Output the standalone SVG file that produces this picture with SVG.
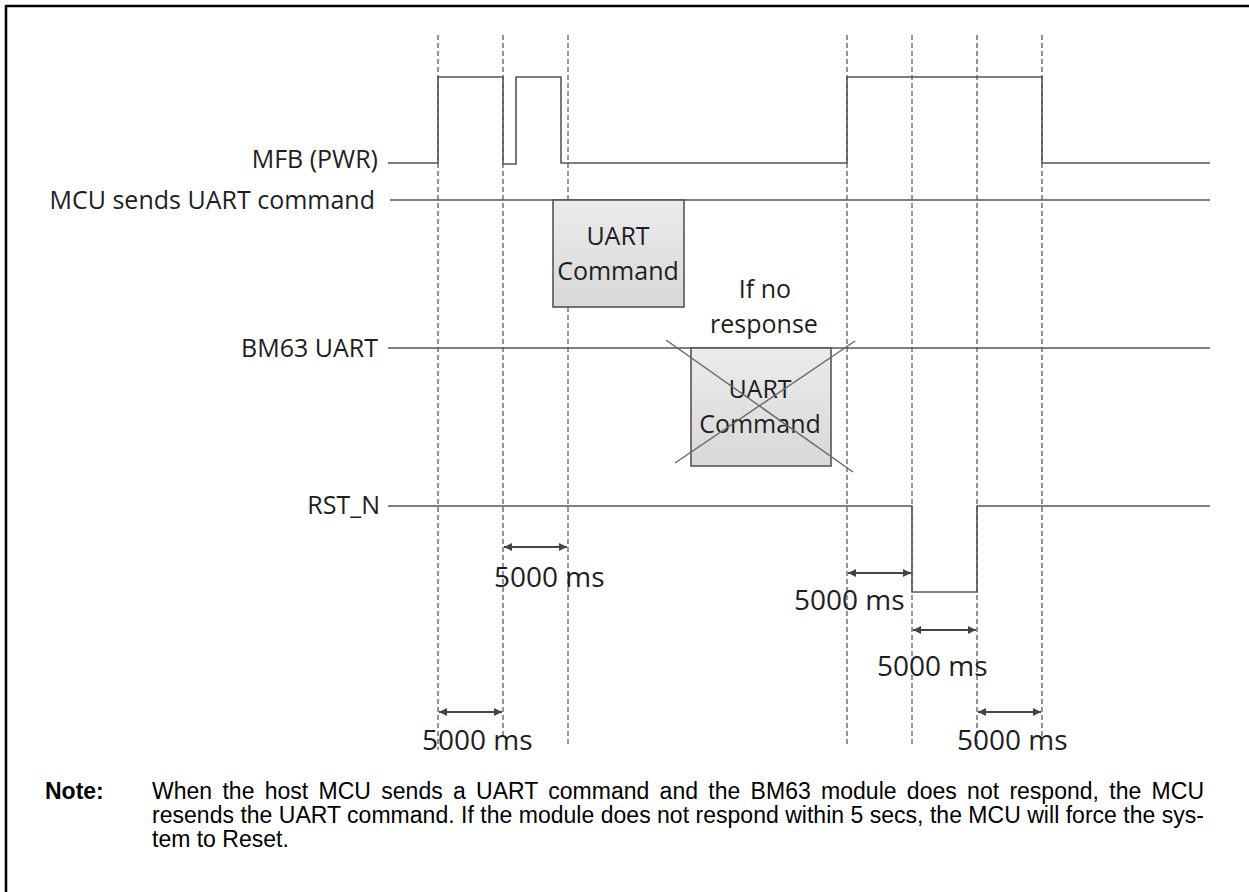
<svg xmlns="http://www.w3.org/2000/svg" width="1249" height="892" viewBox="0 0 1249 892">
<style>
.lbl{font-family:"Open Sans","DejaVu Sans",sans-serif;font-size:25px;fill:#1e1e1e}
.ms{font-family:"Open Sans","DejaVu Sans",sans-serif;font-size:28px;fill:#1e1e1e}
.sig{fill:none;stroke:#555;stroke-width:1.6}
.guide{fill:none;stroke:#2a2a2a;stroke-width:1;stroke-dasharray:5 3}
.dim{fill:none;stroke:#444;stroke-width:1.8;marker-start:url(#ah);marker-end:url(#ah)}
.box{fill:url(#gb);stroke:#555;stroke-width:1.6}
.cross{stroke:#6a6a6a;stroke-width:1.5}
.note{font-family:"Liberation Sans",Arial,sans-serif;font-size:23px;fill:#000}
</style>
<defs>
<linearGradient id="gb" x1="0" y1="0" x2="0" y2="1">
<stop offset="0" stop-color="#ebebeb"/>
<stop offset="1" stop-color="#d8d8d8"/>
</linearGradient>
<marker id="ah" viewBox="0 0 10 10" refX="10" refY="5" markerWidth="9" markerHeight="8" markerUnits="userSpaceOnUse" orient="auto-start-reverse">
<path d="M0,0 L10,5 L0,10 z" fill="#444"/>
</marker>
</defs>
<rect width="1249" height="892" fill="#fff"/>
<path d="M6,892 V6 H1249" fill="none" stroke="#000" stroke-width="2.5"/>

<g id="connectors">
<line class="guide" x1="438" y1="35" x2="438" y2="750"/>
<line class="guide" x1="503" y1="35" x2="503" y2="737"/>
<line class="guide" x1="568" y1="35" x2="568" y2="745"/>
<line class="guide" x1="847" y1="35" x2="847" y2="745"/>
<line class="guide" x1="912" y1="35" x2="912" y2="745"/>
<line class="guide" x1="977" y1="35" x2="977" y2="745"/>
<line class="guide" x1="1042" y1="35" x2="1042" y2="737"/>
<line class="dim" x1="504" y1="547" x2="567" y2="547"/>
<line class="dim" x1="848" y1="573" x2="911" y2="573"/>
<line class="dim" x1="913" y1="630" x2="976" y2="630"/>
<line class="dim" x1="978" y1="712" x2="1041" y2="712"/>
<line class="dim" x1="439" y1="712" x2="502" y2="712"/>
</g>

<g id="mfb">
<text class="lbl" x="378" y="168" text-anchor="end">MFB (PWR)</text>
<path class="sig" d="M388,163 H438 V77 H503 V164 H516 V77 H561 V163 H847 V77 H1042 V163 H1210"/>
</g>
<g id="mcu">
<text class="lbl" x="375" y="209" text-anchor="end">MCU sends UART command</text>
<path class="sig" d="M390,200 H1210"/>
</g>
<g id="bm63">
<text class="lbl" x="378" y="357" text-anchor="end">BM63 UART</text>
<path class="sig" d="M388,348 H1210"/>
</g>
<g id="rst">
<text class="lbl" x="380" y="514" text-anchor="end">RST_N</text>
<path class="sig" d="M388,506 H912 V592 H977 V506 H1210"/>
</g>

<g id="mcu-cmd">
<rect class="box" x="553" y="200" width="131" height="107"/>
<text class="lbl" x="618" y="245" text-anchor="middle">UART</text>
<text class="lbl" x="618" y="280" text-anchor="middle">Command</text>
</g>

<g id="no-response">
<text class="lbl" x="765" y="298" text-anchor="middle">If no</text>
<text class="lbl" x="764" y="333" text-anchor="middle">response</text>
</g>

<g id="bm63-cmd">
<rect class="box" x="691" y="348" width="140" height="118"/>
<text class="lbl" x="760" y="398" text-anchor="middle">UART</text>
<text class="lbl" x="760" y="433" text-anchor="middle">Command</text>
<line class="cross" x1="666" y1="340" x2="853" y2="472"/>
<line class="cross" x1="855" y1="341" x2="675" y2="463"/>
</g>

<g id="timing-labels">
<text class="ms" x="494" y="587">5000 ms</text>
<text class="ms" x="794" y="610">5000 ms</text>
<text class="ms" x="877" y="676">5000 ms</text>
<text class="ms" x="957" y="750">5000 ms</text>
<text class="ms" x="422" y="750">5000 ms</text>
</g>

<g id="note">
<text class="note" x="45" y="799" font-weight="bold">Note:</text>
<text class="note" x="152" y="799" textLength="1052" lengthAdjust="spacing" word-spacing="3.9">When the host MCU sends a UART command and the BM63 module does not respond, the MCU</text>
<text class="note" x="152" y="823" textLength="1052" lengthAdjust="spacing">resends the UART command. If the module does not respond within 5 secs, the MCU will force the sys-</text>
<text class="note" x="152" y="847">tem to Reset.</text>
</g>
</svg>
